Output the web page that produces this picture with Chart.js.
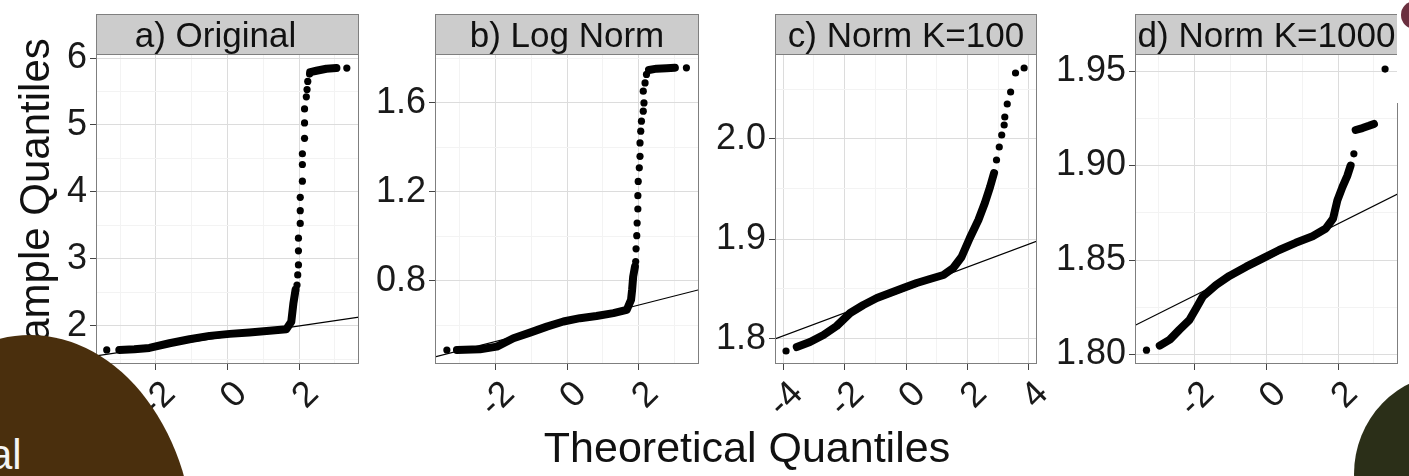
<!DOCTYPE html>
<html>
<head>
<meta charset="utf-8">
<title>QQ plots</title>
<script src="https://cdn.jsdelivr.net/npm/chart.js@4.4.1/dist/chart.umd.min.js"></script>
<style>
  html, body { margin: 0; padding: 0; background: #fff; }
  #stage {
    position: relative; width: 1409px; height: 476px; overflow: hidden;
    font-family: "Liberation Sans", Arial, Helvetica, sans-serif; background: #fff;
  }
  canvas.panel { position: absolute; top: 0; }
  .xtitle {
    position: absolute; left: 347px; top: 423px; width: 800px;
    font-size: 43px; line-height: 48px; text-align: center; color: #111; white-space: nowrap;
  }
  .ytitle {
    position: absolute; left: -175px; top: 180px; width: 420px; height: 48px;
    font-size: 42px; line-height: 48px; text-align: center; color: #111; white-space: nowrap;
    transform: rotate(-90deg); transform-origin: 50% 50%;
  }
  .blob { position: absolute; border-radius: 50%; }
  .brown { left: -135px; top: 335px; width: 330px; height: 440px; background: #4a2f0d; }
  .green { left: 1354px; top: 374px; width: 194px; height: 200px; background: #2b2f18; }
  .purple { left: 1401px; top: 1px; width: 28px; height: 28px; background: #6b2f3f; }
  .cut { position: absolute; left: 1397px; top: 0; width: 12px; height: 103px; background: #fff; }
  .side-text {
    position: absolute; left: -11px; top: 431px; font-size: 42px; line-height: 48px;
    color: #f4f4f4; white-space: nowrap;
  }
</style>
</head>
<body>
<div id="stage">
  <canvas id="panelA" class="panel" width="357" height="476" style="left:6px"></canvas>
  <canvas id="panelB" class="panel" width="358" height="476" style="left:345px"></canvas>
  <canvas id="panelC" class="panel" width="376" height="476" style="left:685px"></canvas>
  <canvas id="panelD" class="panel" width="357" height="476" style="left:1045px"></canvas>
  <div class="xtitle">Theoretical Quantiles</div>
  <div class="ytitle">Sample Quantiles</div>
  <div class="cut"></div>
  <div class="blob purple"></div>
  <div class="blob brown"></div>
  <div class="side-text">al</div>
  <div class="blob green"></div>
</div>
<script>
// ==================== Data ====================

const panelTitles = ['a) Original', 'b) Log Norm', 'c) Norm K=100', 'd) Norm K=1000'];

// x axis breaks
const xBreaks = [-2, 0, 2];
const xLabels = ['-2', '0', '2'];
const xBreaksWide = [-4, -2, 0, 2, 4];
const xLabelsWide = ['-4', '-2', '0', '2', '4'];
const xMinor = [-3, -1, 1, 3];

// y axis breaks per panel
const origYBreaks = [2, 3, 4, 5, 6];
const origYLabels = ['2', '3', '4', '5', '6'];
const origYMinor = [1.5, 2.5, 3.5, 4.5, 5.5];
const logYBreaks = [0.8, 1.2, 1.6];
const logYLabels = ['0.8', '1.2', '1.6'];
const logYMinor = [0.6, 1.0, 1.4, 1.8];
const k100YBreaks = [1.8, 1.9, 2.0];
const k100YLabels = ['1.8', '1.9', '2.0'];
const k100YMinor = [1.85, 1.95, 2.05];
const k1000YBreaks = [1.80, 1.85, 1.90, 1.95];
const k1000YLabels = ['1.80', '1.85', '1.90', '1.95'];
const k1000YMinor = [1.825, 1.875, 1.925];

// a) Original: [theoretical, sample]
const origBand = [[-3.02, 1.64], [-2.60, 1.65], [-2.18, 1.67], [-1.62, 1.74], [-1.06, 1.80], [-0.50, 1.85],
  [0.06, 1.88], [0.61, 1.90], [1.17, 1.925], [1.64, 1.95], [1.78, 2.06], [1.84, 2.34], [1.90, 2.54]];
const origTop = [[2.31, 5.79], [2.48, 5.81], [2.76, 5.84], [3.04, 5.85]];
const origDots = [[-3.37, 1.64], [1.94, 2.61], [1.96, 2.76], [1.98, 2.91], [1.98, 3.12], [1.98, 3.31],
  [2.03, 3.53], [2.03, 3.72], [2.03, 3.92], [2.09, 4.16], [2.09, 4.41], [2.09, 4.57], [2.15, 4.80],
  [2.15, 5.03], [2.15, 5.24], [2.20, 5.42], [2.22, 5.53], [2.24, 5.65], [2.29, 5.76], [3.33, 5.85]];
const origLine = [[-3.67, 1.55], [3.67, 2.13]];

// b) Log Norm
const logBand = [[-3.06, 0.489], [-2.42, 0.492], [-1.95, 0.504], [-1.49, 0.542], [-1.03, 0.567], [-0.56, 0.594],
  [-0.10, 0.617], [0.36, 0.632], [0.82, 0.642], [1.29, 0.655], [1.66, 0.669], [1.78, 0.714], [1.81, 0.759],
  [1.84, 0.819], [1.89, 0.864]];
const logTop = [[2.28, 1.748], [2.49, 1.754], [2.77, 1.756], [3.00, 1.758]];
const logDots = [[-3.34, 0.489], [1.91, 0.887], [1.92, 0.944], [1.94, 1.003], [1.95, 1.060], [1.97, 1.123],
  [1.97, 1.183], [1.98, 1.247], [2.01, 1.308], [2.03, 1.360], [2.03, 1.420], [2.05, 1.473], [2.07, 1.518],
  [2.12, 1.563], [2.14, 1.600], [2.12, 1.653], [2.17, 1.690], [2.21, 1.728], [3.32, 1.758]];
const logLine = [[-3.67, 0.458], [3.67, 0.76]];

// c) Norm K=100
const k100Band = [[-3.56, 1.792], [-3.13, 1.797], [-2.69, 1.804], [-2.26, 1.813], [-1.82, 1.826], [-1.39, 1.834],
  [-0.95, 1.841], [-0.52, 1.846], [-0.09, 1.851], [0.35, 1.856], [0.78, 1.860], [1.22, 1.864], [1.54, 1.871],
  [1.81, 1.882], [2.08, 1.901], [2.36, 1.919], [2.57, 1.936], [2.74, 1.952], [2.87, 1.966]];
const k100Dots = [[-3.91, 1.788], [2.95, 1.979], [3.04, 1.992], [3.12, 2.004], [3.20, 2.014], [3.22, 2.022],
  [3.30, 2.035], [3.41, 2.047], [3.57, 2.066], [3.85, 2.071]];
const k100Line = [[-4.27, 1.800], [4.27, 1.898]];

// d) Norm K=1000
const k1000Band = [[-2.97, 1.8047], [-2.69, 1.8079], [-2.42, 1.8132], [-2.14, 1.8184], [-1.95, 1.8246],
  [-1.77, 1.8307], [-1.40, 1.8368], [-1.03, 1.8416], [-0.56, 1.8465], [-0.10, 1.8509], [0.36, 1.8553],
  [0.82, 1.8591], [1.29, 1.8626], [1.66, 1.8667], [1.86, 1.8719], [1.98, 1.8816], [2.12, 1.8886],
  [2.26, 1.8947], [2.35, 1.9000]];
const k1000Step = [[2.49, 1.9188], [2.68, 1.9198], [2.86, 1.9210], [3.00, 1.9220]];
const k1000Dots = [[-3.34, 1.8023], [2.44, 1.9062], [3.31, 1.9510]];
const k1000Line = [[-3.67, 1.8153], [3.67, 1.8850]];

// ==================== Chart setup ====================

const FONT = '"Liberation Sans", Arial, Helvetica, sans-serif';
const STRIP_TOP = 14;
Chart.defaults.font.family = FONT;

function hasValue(list, v) {
    return list.some(m => Math.abs(m - v) < 1e-9);
}

function tickText(breaks, labels, v) {
    const i = breaks.findIndex(m => Math.abs(m - v) < 1e-9);
    return i < 0 ? '' : labels[i];
}

// gray strip on top of the panel + panel border (ggplot theme_bw look)
const facetStrip = {
    id: 'facetStrip',
    afterDraw(chart, args, opts) {
        const { ctx, chartArea: a } = chart;
        const w = a.right - a.left;
        ctx.save();
        ctx.fillStyle = '#cccccc';
        ctx.fillRect(a.left, STRIP_TOP, w, a.top - STRIP_TOP);
        ctx.strokeStyle = '#7f7f7f';
        ctx.lineWidth = 1;
        ctx.strokeRect(a.left + 0.5, STRIP_TOP + 0.5, w - 1, a.top - STRIP_TOP);
        ctx.strokeRect(a.left + 0.5, a.top + 0.5, w - 1, a.bottom - a.top - 1);
        ctx.fillStyle = '#111';
        ctx.font = '35px ' + FONT;
        ctx.textAlign = 'center';
        ctx.textBaseline = 'alphabetic';
        ctx.fillText(opts.text, (a.left + a.right) / 2 + (opts.shift || 0), 46.5);
        ctx.restore();
    }
};

function axis(min, max, breaks, labels, minor, horizontal) {
    const all = breaks.concat(minor).sort((p, q) => p - q);
    return {
        type: 'linear',
        min: min,
        max: max,
        afterBuildTicks: s => { s.ticks = all.map(v => ({ value: v })); },
        afterFit: s => {
            if (horizontal) s.height = 112; else s.width = 90;
            // keep the panel rectangle fixed, labels may hang over
            s.paddingLeft = 0;
            s.paddingRight = 0;
            s.paddingTop = 0;
            s.paddingBottom = 0;
        },
        border: { display: false },
        grid: {
            color: c => hasValue(breaks, c.tick.value) ? '#dcdcdc' : '#f3f3f3',
            tickColor: c => hasValue(breaks, c.tick.value) ? '#444' : 'rgba(0,0,0,0)',
            lineWidth: 1,
            tickLength: 6
        },
        ticks: {
            autoSkip: false,
            color: '#1a1a1a',
            font: { size: 36 },
            padding: 3,
            minRotation: horizontal ? 45 : 0,
            maxRotation: horizontal ? 45 : 0,
            labelOffset: horizontal ? 14 : 0,
            callback: v => tickText(breaks, labels, v)
        }
    };
}

function buildPanel(id, p) {
    const datasets = [{
        data: p.dots,
        showLine: false,
        pointRadius: 3.6,
        pointBackgroundColor: '#000',
        pointBorderWidth: 0
    }];
    p.bands.forEach(seg => datasets.push({
        data: seg,
        showLine: true,
        borderColor: '#000',
        borderWidth: 8,
        borderCapStyle: 'round',
        borderJoinStyle: 'round',
        pointRadius: 0
    }));
    // qqline last so it is drawn underneath the points
    datasets.push({
        data: p.line,
        showLine: true,
        borderColor: '#000',
        borderWidth: 1.2,
        pointRadius: 0
    });

    return new Chart(document.getElementById(id), {
        type: 'scatter',
        data: { datasets: datasets },
        options: {
            responsive: false,
            animation: false,
            devicePixelRatio: 1,
            layout: { padding: { left: 0, right: p.padRight || 4, top: 54, bottom: 0 } },
            plugins: {
                legend: { display: false },
                tooltip: { enabled: false },
                facetStrip: { text: p.title, shift: p.shift || 0 }
            },
            scales: {
                x: axis(p.xRange[0], p.xRange[1], p.xBreaks, p.xLabels, xMinor, true),
                y: axis(p.yRange[0], p.yRange[1], p.yBreaks, p.yLabels, p.yMinor, false)
            }
        },
        plugins: [facetStrip]
    });
}

buildPanel('panelA', {
    title: panelTitles[0], shift: -12,
    dots: origDots, bands: [origBand, origTop], line: origLine,
    xRange: [-3.67, 3.67], xBreaks: xBreaks, xLabels: xLabels,
    yRange: [1.43, 6.06], yBreaks: origYBreaks, yLabels: origYLabels, yMinor: origYMinor
});

buildPanel('panelB', {
    title: panelTitles[1],
    dots: logDots, bands: [logBand, logTop], line: logLine,
    xRange: [-3.67, 3.67], xBreaks: xBreaks, xLabels: xLabels,
    yRange: [0.426, 1.82], yBreaks: logYBreaks, yLabels: logYLabels, yMinor: logYMinor
});

buildPanel('panelC', {
    title: panelTitles[2], padRight: 24,
    dots: k100Dots, bands: [k100Band], line: k100Line,
    xRange: [-4.27, 4.27], xBreaks: xBreaksWide, xLabels: xLabelsWide,
    yRange: [1.775, 2.085], yBreaks: k100YBreaks, yLabels: k100YLabels, yMinor: k100YMinor
});

buildPanel('panelD', {
    title: panelTitles[3],
    dots: k1000Dots, bands: [k1000Band, k1000Step], line: k1000Line,
    xRange: [-3.66, 3.67], xBreaks: xBreaks, xLabels: xLabels,
    yRange: [1.795, 1.959], yBreaks: k1000YBreaks, yLabels: k1000YLabels, yMinor: k1000YMinor
});
</script>
</body>
</html>
